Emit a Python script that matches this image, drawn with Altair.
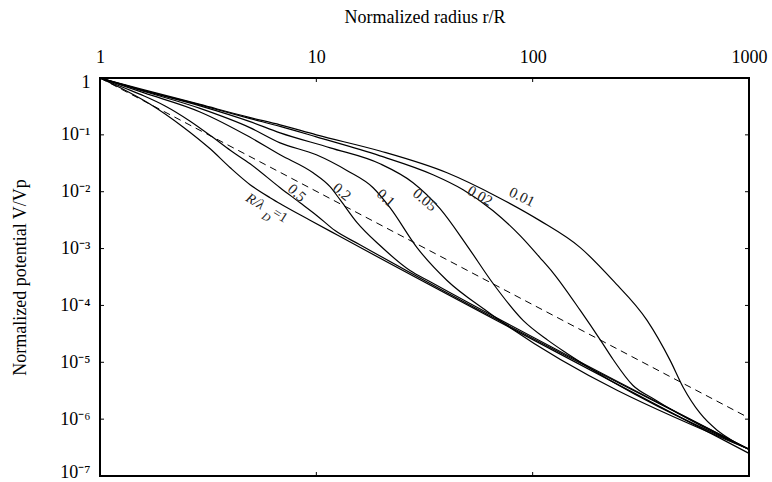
import altair as alt
import pandas as pd

FONT = "Liberation Serif, Times New Roman, serif"

# Normalized radius r/R and normalized potential V/Vp, one pair of lists per R/λD
r_100 = [1, 1.3, 1.7, 2.42, 3.23, 4.0, 4.94, 6.11, 7.0, 9.35, 12.5, 1000]
v_100 = [1, 0.616, 0.35, 0.138, 0.0568, 0.0264, 0.0133, 0.00785, 0.0058, 0.00316, 0.00173, 2.5e-7]

r_050 = [1, 1.3, 1.6, 2.0, 2.6, 3.3, 4.0, 4.94, 6.8, 8.41, 10.07, 12.2, 15.9, 1000]
v_050 = [1, 0.668, 0.483, 0.323, 0.176, 0.0923, 0.0535, 0.031, 0.01175, 0.0064, 0.00379, 0.00207, 0.00117, 2.95e-7]

r_020 = [1, 1.6, 2.9, 4.9, 6.8, 9.66, 11.57, 12.87, 15.43, 19.7, 27.1, 33.6, 1000]
v_020 = [1, 0.546, 0.253, 0.0923, 0.0446, 0.0215, 0.01224, 0.00724, 0.00286, 0.00113, 4.11e-4, 2.61e-4, 2.95e-7]

r_010 = [1, 1.6, 2.9, 4.9, 6.8, 10, 13.9, 18.3, 21.9, 29.2, 40.2, 61.5, 1000]
v_010 = [1, 0.58, 0.292, 0.1355, 0.0724, 0.0446, 0.0234, 0.01175, 0.00524, 0.00104, 2.75e-4, 7.9e-5, 2.95e-7]

r_005 = [1, 1.6, 2.9, 4.9, 6.8, 11.6, 19.7, 28, 37.3, 49.7, 65.6, 90.3, 117.8, 144.2, 1000]
v_005 = [1, 0.595, 0.323, 0.1725, 0.1084, 0.0591, 0.031, 0.0144, 0.00503, 0.00113, 2.43e-4, 5.46e-5, 2.43e-5, 1.43e-5, 2.95e-7]

r_002 = [1, 1.6, 2.9, 4.9, 6.8, 10, 19.7, 34.6, 47.7, 65.6, 87.5, 108, 124, 166, 209, 235, 291, 360, 1000]
v_002 = [1, 0.603, 0.336, 0.195, 0.141, 0.0923, 0.0428, 0.0199, 0.01084, 0.00464, 0.00169, 6.95e-4, 3.79e-4, 8.17e-5, 2.24e-5, 1.13e-5, 3.9e-6, 2.3e-6, 2.96e-7]

r_001 = [1, 1.6, 2.9, 4.9, 6.8, 10, 19.7, 40.2, 68.5, 108, 166, 235, 338, 432, 496, 594, 712, 818, 1000]
v_001 = [1, 0.62, 0.343, 0.203, 0.15, 0.1, 0.052, 0.0215, 0.00817, 0.0031, 0.00104, 2.75e-4, 5.46e-5, 1.08e-5, 3.64e-6, 1.27e-6, 6.4e-7, 4.45e-7, 2.95e-7]

# Reference 1/r^2 law (dashed)
r_ref = [1, 1000]
v_ref = [1, 1.05e-6]

# Curve labels: text, anchor (r, V) and rotation
label_text = ["0.5", "0.2", "0.1", "0.05", "0.02", "0.01"]
label_r = [8.14, 13.15, 21.0, 31.8, 57.1, 89.3]
label_v = [0.0096, 0.01, 0.00785, 0.00724, 0.0085, 0.00817]
label_angle = [42, 40, 42, 40, 30, 26]

# "R/λD=1" built from pieces so that D sits as a subscript
rl_text = ["R/λ", "D"]
rl_r = [5.21, 5.85]
rl_v = [0.00668, 0.0035]
rl_size = [14, 11]
eq_text = ["=1"]
eq_r = [6.8]
eq_v = [0.00379]

x_ticks = [1, 10, 100, 1000]
y_ticks = [1, 1e-1, 1e-2, 1e-3, 1e-4, 1e-5, 1e-6, 1e-7]

W, H = 649, 398

series = [
    ("1", r_100, v_100), ("0.5", r_050, v_050), ("0.2", r_020, v_020),
    ("0.1", r_010, v_010), ("0.05", r_005, v_005), ("0.02", r_002, v_002),
    ("0.01", r_001, v_001),
]
rows = []
for name, rs, vs in series:
    for i, (r, v) in enumerate(zip(rs, vs)):
        rows.append({"series": name, "r": r, "v": v, "i": i})
curves = pd.DataFrame(rows)
ref = pd.DataFrame({"r": r_ref, "v": v_ref})
labels = pd.DataFrame({"t": label_text, "r": label_r, "v": label_v, "ang": label_angle})
rl = pd.DataFrame({"t": rl_text, "r": rl_r, "v": rl_v, "size": rl_size})
eq = pd.DataFrame({"t": eq_text, "r": eq_r, "v": eq_v})

SUP = {1: "⁻¹", 2: "⁻²", 3: "⁻³", 4: "⁻⁴", 5: "⁻⁵", 6: "⁻⁶", 7: "⁻⁷"}
parts = ["datum.value > 0.5 ? '1'"]
for k in range(1, 7):
    parts.append(f"datum.value > {0.5 * 10 ** -k:.1e} ? '10{SUP[k]}'")
y_label_expr = " : ".join(parts) + f" : '10{SUP[7]}'"

X = alt.X(
    "r:Q",
    scale=alt.Scale(type="log", domain=[1, 1000]),
    axis=alt.Axis(
        orient="top", values=x_ticks, format="d", labelFlush=False,
        title="Normalized radius r/R", labelPadding=12, titlePadding=22,
    ),
)
Y = alt.Y(
    "v:Q",
    scale=alt.Scale(type="log", domain=[1e-7, 1]),
    axis=alt.Axis(
        orient="left", values=y_ticks, labelExpr=y_label_expr,
        labelFlush=True, labelFlushOffset=5,
        title="Normalized potential V/Vp", labelPadding=10, titlePadding=30,
    ),
)

lines = alt.Chart(curves).mark_line(
    color="black", strokeWidth=1.2, interpolate="monotone"
).encode(x=X, y=Y, detail="series:N", order="i:Q")

dashed = alt.Chart(ref).mark_line(
    color="black", strokeWidth=1, strokeDash=[7, 5]
).encode(x=X, y=Y)

curve_labels = alt.Chart(labels).mark_text(
    font=FONT, fontSize=15, color="#222"
).encode(x=X, y=Y, text="t:N", angle=alt.Angle("ang:Q", scale=None))

ratio_label = alt.Chart(rl).mark_text(
    font=FONT, color="#222", angle=32, fontStyle="italic"
).encode(x=X, y=Y, text="t:N", size=alt.Size("size:Q", scale=None))

ratio_eq = alt.Chart(eq).mark_text(
    font=FONT, color="#222", angle=32, fontSize=14
).encode(x=X, y=Y, text="t:N")

# Short inward tick marks on all four sides
xt = pd.DataFrame({"r": [10, 100]})
yt = pd.DataFrame({"v": y_ticks[1:-1]})
top_ticks = alt.Chart(xt).mark_rule(color="black", strokeWidth=1).encode(
    x=X, y=alt.value(0), y2=alt.value(4))
bottom_ticks = alt.Chart(xt).mark_rule(color="black", strokeWidth=1).encode(
    x=X, y=alt.value(H), y2=alt.value(H - 4))
left_ticks = alt.Chart(yt).mark_rule(color="black", strokeWidth=1).encode(
    y=Y, x=alt.value(0), x2=alt.value(4))
right_ticks = alt.Chart(yt).mark_rule(color="black", strokeWidth=1).encode(
    y=Y, x=alt.value(W), x2=alt.value(W - 4))

chart = (
    alt.layer(lines, dashed, curve_labels, ratio_label, ratio_eq,
              top_ticks, bottom_ticks, left_ticks, right_ticks)
    .properties(
        width=W, height=H, autosize="none",
        padding={"left": 100, "top": 78, "right": 23, "bottom": 6},
        background="white",
    )
    .configure_view(stroke="black", strokeWidth=2)
    .configure_axis(
        grid=False, domain=False, ticks=False,
        labelFont=FONT, titleFont=FONT, labelFontSize=18, titleFontSize=18,
        titleFontWeight="normal", labelColor="black", titleColor="black",
    )
)

chart.save("out.html", embed_options={"renderer": "svg", "actions": False})
